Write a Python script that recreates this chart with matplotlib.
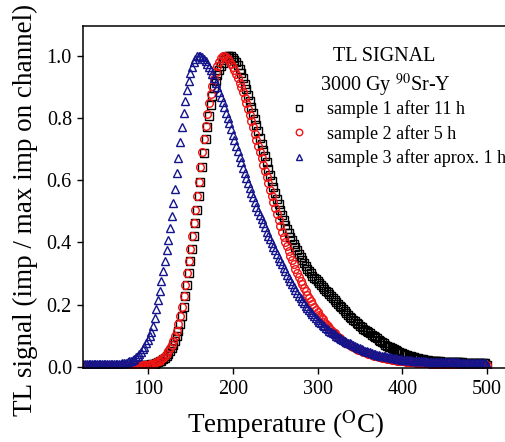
import matplotlib
matplotlib.use('Agg')
import matplotlib.pyplot as plt
import numpy as np

plt.rcParams['font.family'] = ['Liberation Serif', 'DejaVu Serif']
plt.rcParams['mathtext.fontset'] = 'stix'

# temperature channels (deg C), 2 degree steps
temps = np.arange(24, 501, 2)

# sample 1 after 11 h (black squares)
sample1 = [
    0.001, 0.001, 0.001, 0.001, 0.001, 0.001, 0.001, 0.001, 0.001, 0.001,
    0.001, 0.001, 0.001, 0.001, 0.001, 0.001, 0.001, 0.001, 0.001, 0.001,
    0.001, 0.001, 0.001, 0.001, 0.001, 0.001, 0.001, 0.001, 0.002, 0.002,
    0.003, 0.003, 0.003, 0.004, 0.004, 0.005, 0.005, 0.006, 0.006, 0.007,
    0.008, 0.009, 0.010, 0.012, 0.014, 0.017, 0.020, 0.024, 0.029, 0.035,
    0.042, 0.050, 0.059, 0.070, 0.083, 0.098, 0.116, 0.137, 0.162, 0.192,
    0.226, 0.262, 0.300, 0.340, 0.380, 0.420, 0.461, 0.503, 0.548, 0.595,
    0.642, 0.688, 0.731, 0.771, 0.808, 0.841, 0.870, 0.896, 0.918, 0.937,
    0.953, 0.967, 0.978, 0.988, 0.995, 0.999, 1.000, 0.998, 0.994, 0.988,
    0.980, 0.970, 0.958, 0.944, 0.928, 0.911, 0.893, 0.874, 0.855, 0.836,
    0.817, 0.797, 0.777, 0.757, 0.737, 0.717, 0.697, 0.677, 0.657, 0.637,
    0.617, 0.597, 0.578, 0.560, 0.541, 0.523, 0.505, 0.488, 0.472, 0.457,
    0.443, 0.430, 0.418, 0.407, 0.396, 0.385, 0.374, 0.363, 0.353, 0.343,
    0.333, 0.324, 0.315, 0.307, 0.300, 0.293, 0.287, 0.281, 0.275, 0.269,
    0.263, 0.257, 0.251, 0.245, 0.239, 0.233, 0.227, 0.221, 0.215, 0.209,
    0.203, 0.197, 0.191, 0.185, 0.179, 0.173, 0.167, 0.161, 0.156, 0.151,
    0.146, 0.141, 0.136, 0.131, 0.127, 0.123, 0.119, 0.115, 0.111, 0.107,
    0.103, 0.099, 0.095, 0.091, 0.087, 0.083, 0.079, 0.075, 0.071, 0.068,
    0.065, 0.062, 0.059, 0.056, 0.053, 0.050, 0.047, 0.045, 0.043, 0.041,
    0.039, 0.037, 0.035, 0.033, 0.031, 0.030, 0.028, 0.027, 0.026, 0.025,
    0.024, 0.023, 0.022, 0.021, 0.020, 0.019, 0.019, 0.018, 0.018, 0.017,
    0.017, 0.016, 0.016, 0.015, 0.014, 0.014, 0.014, 0.014, 0.014, 0.014,
    0.014, 0.014, 0.014, 0.014, 0.013, 0.013, 0.013, 0.013, 0.013, 0.013,
    0.013, 0.013, 0.013, 0.012, 0.012, 0.012, 0.012, 0.012, 0.006,
]

# sample 2 after 5 h (red circles)
sample2 = [
    0.001, 0.001, 0.001, 0.001, 0.001, 0.001, 0.001, 0.001, 0.001, 0.001,
    0.001, 0.001, 0.001, 0.001, 0.001, 0.001, 0.001, 0.001, 0.001, 0.002,
    0.002, 0.002, 0.002, 0.002, 0.002, 0.002, 0.002, 0.002, 0.003, 0.003,
    0.003, 0.004, 0.004, 0.004, 0.005, 0.005, 0.006, 0.006, 0.007, 0.008,
    0.009, 0.010, 0.012, 0.014, 0.017, 0.020, 0.024, 0.029, 0.035, 0.042,
    0.050, 0.059, 0.070, 0.083, 0.098, 0.116, 0.137, 0.162, 0.192, 0.226,
    0.262, 0.300, 0.340, 0.380, 0.420, 0.461, 0.503, 0.548, 0.595, 0.643,
    0.690, 0.734, 0.775, 0.813, 0.847, 0.877, 0.903, 0.926, 0.948, 0.966,
    0.981, 0.993, 1.000, 0.999, 0.996, 0.990, 0.983, 0.974, 0.964, 0.953,
    0.941, 0.928, 0.914, 0.899, 0.883, 0.865, 0.847, 0.828, 0.809, 0.790,
    0.770, 0.750, 0.730, 0.710, 0.690, 0.670, 0.650, 0.630, 0.610, 0.590,
    0.570, 0.550, 0.530, 0.510, 0.491, 0.472, 0.453, 0.434, 0.418, 0.402,
    0.387, 0.372, 0.357, 0.343, 0.329, 0.315, 0.302, 0.289, 0.277, 0.265,
    0.254, 0.243, 0.232, 0.221, 0.211, 0.201, 0.191, 0.183, 0.175, 0.167,
    0.159, 0.152, 0.145, 0.138, 0.131, 0.125, 0.119, 0.113, 0.107, 0.101,
    0.096, 0.091, 0.086, 0.082, 0.078, 0.075, 0.072, 0.069, 0.066, 0.063,
    0.060, 0.058, 0.055, 0.053, 0.050, 0.048, 0.046, 0.044, 0.042, 0.040,
    0.038, 0.036, 0.035, 0.033, 0.032, 0.030, 0.029, 0.028, 0.027, 0.026,
    0.025, 0.024, 0.023, 0.022, 0.021, 0.020, 0.019, 0.018, 0.017, 0.017,
    0.016, 0.016, 0.015, 0.015, 0.014, 0.014, 0.013, 0.013, 0.012, 0.012,
    0.012, 0.011, 0.011, 0.011, 0.010, 0.010, 0.010, 0.010, 0.009, 0.009,
    0.009, 0.009, 0.009, 0.009, 0.009, 0.008, 0.008, 0.008, 0.008, 0.008,
    0.008, 0.008, 0.008, 0.007, 0.007, 0.007, 0.007, 0.007, 0.007, 0.007,
    0.007, 0.007, 0.006, 0.006, 0.006, 0.006, 0.006, 0.006, 0.005,
]

# sample 3 after aprox. 1 h (blue triangles)
sample3 = [
    0.010, 0.010, 0.010, 0.010, 0.010, 0.010, 0.010, 0.010, 0.010, 0.010,
    0.010, 0.010, 0.010, 0.010, 0.010, 0.010, 0.010, 0.010, 0.010, 0.010,
    0.010, 0.010, 0.010, 0.011, 0.012, 0.013, 0.015, 0.017, 0.019, 0.022,
    0.026, 0.030, 0.035, 0.041, 0.048, 0.056, 0.065, 0.075, 0.086, 0.098,
    0.112, 0.132, 0.158, 0.186, 0.215, 0.245, 0.276, 0.307, 0.340, 0.374,
    0.409, 0.446, 0.486, 0.528, 0.573, 0.622, 0.672, 0.722, 0.770, 0.815,
    0.855, 0.890, 0.920, 0.945, 0.965, 0.980, 0.991, 0.998, 1.000, 0.999,
    0.996, 0.990, 0.983, 0.974, 0.964, 0.953, 0.941, 0.928, 0.914, 0.899,
    0.883, 0.867, 0.851, 0.834, 0.817, 0.800, 0.783, 0.765, 0.747, 0.729,
    0.711, 0.693, 0.675, 0.657, 0.640, 0.623, 0.607, 0.591, 0.575, 0.560,
    0.545, 0.530, 0.515, 0.501, 0.487, 0.474, 0.461, 0.448, 0.435, 0.422,
    0.410, 0.398, 0.386, 0.374, 0.362, 0.351, 0.340, 0.329, 0.318, 0.307,
    0.296, 0.285, 0.275, 0.265, 0.255, 0.246, 0.237, 0.228, 0.220, 0.212,
    0.204, 0.197, 0.190, 0.183, 0.176, 0.169, 0.163, 0.157, 0.151, 0.145,
    0.140, 0.135, 0.130, 0.125, 0.120, 0.116, 0.112, 0.108, 0.104, 0.100,
    0.097, 0.093, 0.090, 0.087, 0.084, 0.081, 0.078, 0.075, 0.072, 0.069,
    0.066, 0.064, 0.061, 0.059, 0.056, 0.054, 0.052, 0.050, 0.048, 0.046,
    0.044, 0.042, 0.041, 0.039, 0.038, 0.036, 0.035, 0.034, 0.033, 0.032,
    0.031, 0.030, 0.029, 0.028, 0.027, 0.026, 0.025, 0.024, 0.023, 0.0225,
    0.022, 0.0215, 0.021, 0.0205, 0.020, 0.0195, 0.019, 0.0185, 0.018, 0.0178,
    0.0175, 0.0172, 0.017, 0.0167, 0.0163, 0.016, 0.0157, 0.0153, 0.015, 0.015,
    0.015, 0.015, 0.015, 0.015, 0.014, 0.014, 0.014, 0.014, 0.014, 0.014,
    0.014, 0.014, 0.013, 0.013, 0.013, 0.013, 0.013, 0.013, 0.013, 0.013,
    0.013, 0.012, 0.012, 0.012, 0.012, 0.012, 0.012, 0.012, 0.006,
]

labels = ['sample 1 after 11 h', 'sample 2 after 5 h', 'sample 3 after aprox. 1 h']
colors = ['black', '#f01414', '#14148c']
markers = ['s', 'o', '^']
x_ticks = [100, 200, 300, 400, 500]
y_ticks = [0.0, 0.2, 0.4, 0.6, 0.8, 1.0]

fig = plt.figure(figsize=(5.05, 4.42), dpi=100)
ax = fig.add_axes([83 / 505, 1 - 368 / 442, 422 / 505, 342 / 442])

handles = []
for ys, c, m, lab in zip([sample1, sample2, sample3], colors, markers, labels):
    h, = ax.plot(temps, ys, linestyle='none', marker=m, ms=5.5, mfc='none',
                 mec=c, mew=1.0, label=lab)
    handles.append(h)

ax.set_xlim(23.5, 521)
ax.set_ylim(-0.004, 1.096)
ax.set_xticks(x_ticks)
ax.set_yticks(y_ticks)
ax.set_yticklabels([f'{v:.1f}' for v in y_ticks])
ax.tick_params(direction='out', length=4.5, width=1, labelsize=14.5, pad=3.5)
ax.tick_params(axis='x', pad=4.5)
ax.spines['right'].set_visible(False)
for s in ['left', 'bottom', 'top']:
    ax.spines[s].set_linewidth(1.1)

ax.set_xlabel('Temperature ($^{\\rm O}$C)', fontsize=19.5)
ax.xaxis.label.set_va('baseline')
ax.xaxis.set_label_coords(0.481, -0.19)
ax.set_ylabel('TL signal (imp / max imp on channel)', fontsize=19.5)
ax.yaxis.set_label_coords(-0.107, 0.462)

fig.text(384 / 505, 1 - 61 / 442, 'TL SIGNAL', ha='center', va='baseline', fontsize=14.5)
fig.text(385 / 505, 1 - 91 / 442, '3000 Gy $^{90}$Sr-Y', ha='center', va='baseline', fontsize=14.5)

ax.legend(handles=handles, loc='upper left', bbox_to_anchor=(290 / 505, 1 - 100 / 442),
          bbox_transform=fig.transFigure, frameon=False, fontsize=13,
          borderpad=0, borderaxespad=0, handlelength=1.0, handletextpad=1.05,
          labelspacing=0.38, markerscale=0.85)

fig.savefig('out.png', dpi=100)
